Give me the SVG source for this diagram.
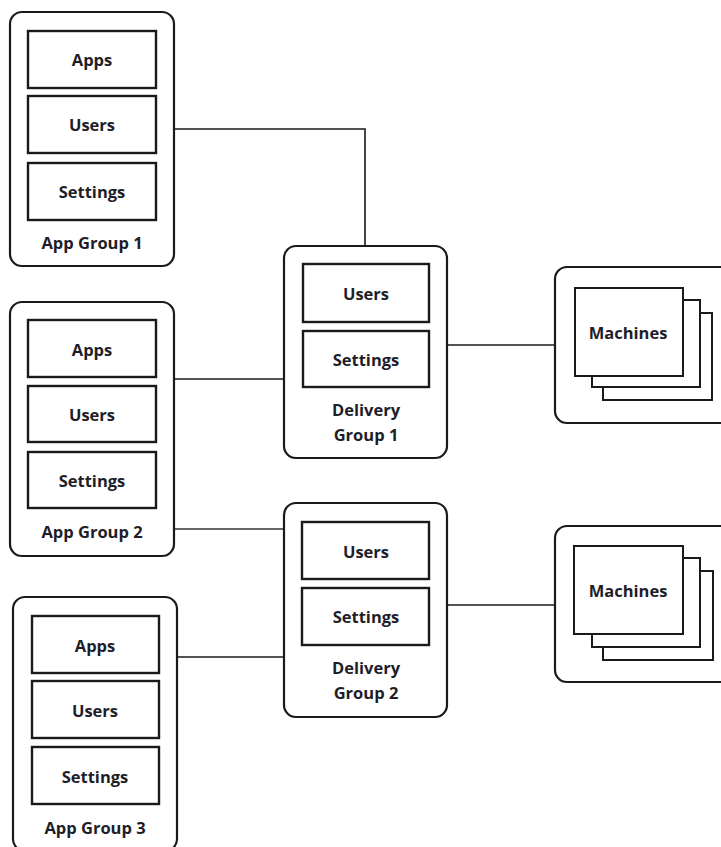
<svg xmlns="http://www.w3.org/2000/svg" width="721" height="847" viewBox="0 0 721 847">
<style>
.outer{fill:#fff;stroke:#1a1a1a;stroke-width:2.2}
.inner{fill:#fff;stroke:#1a1a1a;stroke-width:2.4}
.card{fill:#fff;stroke:#1a1a1a;stroke-width:2}
.t{font-family:"Open Sans","Noto Sans",sans-serif;font-weight:bold;font-size:16.5px;fill:#1e1e28;text-anchor:middle;dominant-baseline:central}
.c{fill:none;stroke:#1a1a1a;stroke-width:1.6}
</style>
<rect width="721" height="847" fill="#fff"/>
<g id="connectors">
<polyline class="c" points="174,129 365,129 365,246"/>
<line class="c" x1="174" y1="379" x2="284" y2="379"/>
<line class="c" x1="174" y1="529" x2="284" y2="529" style="stroke:#666;stroke-width:2.2"/>
<line class="c" x1="177" y1="657" x2="284" y2="657"/>
<line class="c" x1="447" y1="345" x2="555" y2="345"/>
<line class="c" x1="447" y1="605" x2="555" y2="605"/>
</g>
<g id="app-group-1">
<rect class="outer" x="10" y="12" width="164" height="254" rx="12"/>
<rect class="inner" x="28" y="31" width="128" height="57"/>
<text class="t" x="92" y="59">Apps</text>
<rect class="inner" x="28" y="96" width="128" height="57"/>
<text class="t" x="92" y="124">Users</text>
<rect class="inner" x="28" y="163" width="128" height="57"/>
<text class="t" x="92" y="191">Settings</text>
<text class="t" x="92" y="242">App Group 1</text>
</g>
<g id="app-group-2">
<rect class="outer" x="10" y="302" width="164" height="254" rx="12"/>
<rect class="inner" x="28" y="320" width="128" height="57"/>
<text class="t" x="92" y="349">Apps</text>
<rect class="inner" x="28" y="386" width="128" height="56"/>
<text class="t" x="92" y="414">Users</text>
<rect class="inner" x="28" y="452" width="128" height="56"/>
<text class="t" x="92" y="480">Settings</text>
<text class="t" x="92" y="531">App Group 2</text>
</g>
<g id="app-group-3">
<rect class="outer" x="13" y="597" width="164" height="254" rx="12"/>
<rect class="inner" x="32" y="616" width="127" height="57"/>
<text class="t" x="95" y="645">Apps</text>
<rect class="inner" x="32" y="681" width="127" height="57"/>
<text class="t" x="95" y="710">Users</text>
<rect class="inner" x="32" y="747" width="127" height="57"/>
<text class="t" x="95" y="776">Settings</text>
<text class="t" x="95" y="827">App Group 3</text>
</g>
<g id="delivery-group-1">
<rect class="outer" x="284" y="246" width="163" height="212" rx="12"/>
<rect class="inner" x="303" y="264" width="126" height="58"/>
<text class="t" x="366" y="293">Users</text>
<rect class="inner" x="303" y="331" width="126" height="56"/>
<text class="t" x="366" y="359">Settings</text>
<text class="t" x="366" y="409">Delivery</text>
<text class="t" x="366" y="434">Group 1</text>
</g>
<g id="delivery-group-2">
<rect class="outer" x="284" y="503" width="163" height="214" rx="12"/>
<rect class="inner" x="302" y="522" width="127" height="57"/>
<text class="t" x="366" y="551">Users</text>
<rect class="inner" x="302" y="588" width="127" height="57"/>
<text class="t" x="366" y="616">Settings</text>
<text class="t" x="366" y="667">Delivery</text>
<text class="t" x="366" y="692">Group 2</text>
</g>
<g id="machines-1">
<rect class="outer" x="555" y="267" width="180" height="156" rx="12"/>
<rect class="card" x="603" y="313" width="109" height="87"/>
<rect class="card" x="592" y="300" width="108" height="87"/>
<rect class="card" x="575" y="288" width="108" height="88"/>
<text class="t" x="628" y="332">Machines</text>
</g>
<g id="machines-2">
<rect class="outer" x="555" y="526" width="180" height="156" rx="12"/>
<rect class="card" x="603" y="571" width="110" height="89"/>
<rect class="card" x="592" y="558" width="108" height="89"/>
<rect class="card" x="574" y="546" width="109" height="88"/>
<text class="t" x="628" y="590">Machines</text>
</g>
</svg>
